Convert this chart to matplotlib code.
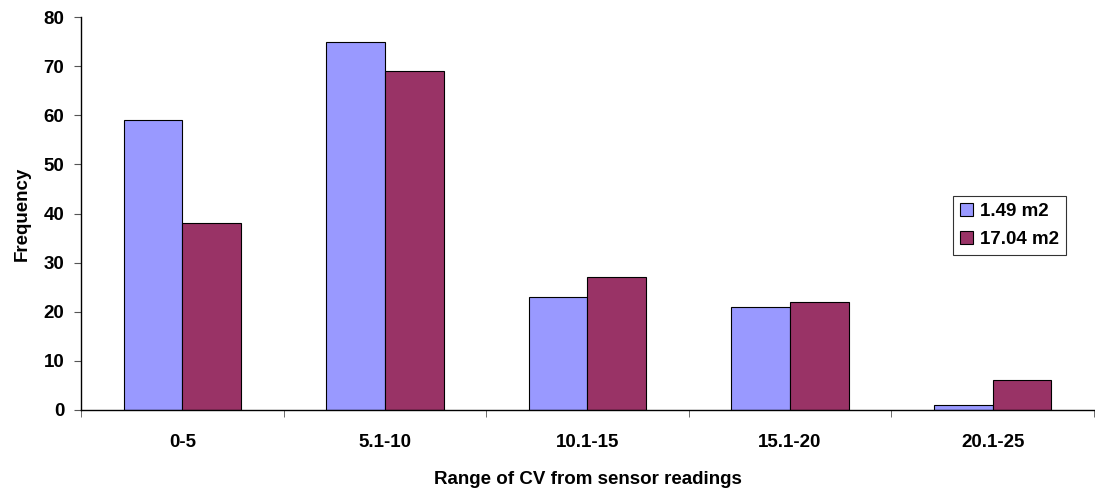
import numpy as np
import matplotlib.pyplot as plt

categories = ['0-5', '5.1-10', '10.1-15', '15.1-20', '20.1-25']
small_area = [59, 75, 23, 21, 1]
large_area = [38, 69, 27, 22, 6]
series_names = ['1.49 m2', '17.04 m2']

plt.rcParams['font.family'] = ['Liberation Sans', 'DejaVu Sans']
plt.rcParams['font.weight'] = 'bold'
fs = 13.5

fig = plt.figure(figsize=(10.95, 4.88), dpi=100)
ax = fig.add_axes([0.074, 0.160, 0.925, 0.805])

x = np.arange(len(categories))
w = 0.29
ax.bar(x - w / 2, small_area, w, color='#9999FF', edgecolor='black', linewidth=0.8, label=series_names[0])
ax.bar(x + w / 2, large_area, w, color='#993366', edgecolor='black', linewidth=0.8, label=series_names[1])

ax.set_xlim(-0.5, len(categories) - 0.5)
ax.set_ylim(0, 80)
ax.set_yticks(range(0, 81, 10))
ax.set_xticks(x)
ax.set_xticklabels(categories, fontsize=fs, fontweight='bold')
ax.tick_params(axis='x', length=0, pad=17)
ax.set_xticks(np.arange(-0.5, len(categories), 1), minor=True)
ax.tick_params(axis='x', which='minor', length=5, direction='out', color='#555555')
ax.tick_params(axis='y', labelsize=fs, length=5, direction='out', color='#555555', pad=7)
for lbl in ax.get_yticklabels():
    lbl.set_fontweight('bold')

ax.spines['top'].set_visible(False)
ax.spines['right'].set_visible(False)
ax.spines['left'].set_linewidth(1.0)
ax.spines['bottom'].set_linewidth(1.0)

ax.set_xlabel('Range of CV from sensor readings', fontsize=fs, fontweight='bold', labelpad=15)
ax.set_ylabel('Frequency', fontsize=fs, fontweight='bold', labelpad=9)

leg = ax.legend(loc='upper left', bbox_to_anchor=(0.8605, 0.545), fontsize=fs,
                frameon=True, fancybox=False, edgecolor='black',
                handlelength=0.7, handleheight=0.7, handletextpad=0.35,
                borderpad=0.4, labelspacing=0.55, borderaxespad=0)
leg.get_frame().set_linewidth(0.8)
for t in leg.get_texts():
    t.set_fontweight('bold')

fig.savefig('out.png', dpi=100)
